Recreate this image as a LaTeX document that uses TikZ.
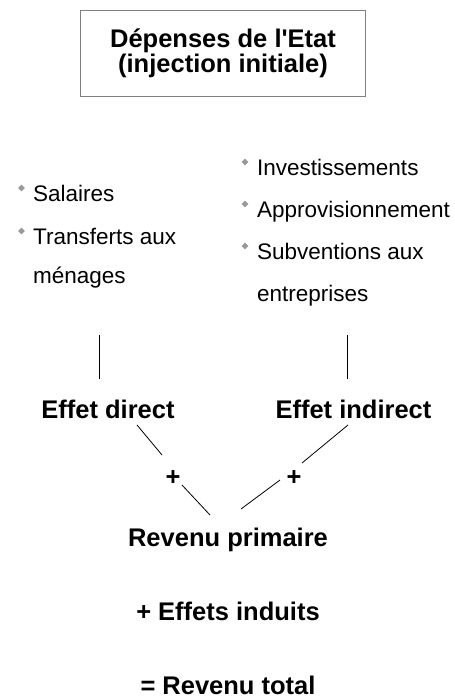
\documentclass[tikz,border=0pt]{standalone}
\usepackage{fontspec}
\setmainfont{Liberation Sans}[Ligatures=TeXOff]
\usetikzlibrary{positioning,shapes.geometric}

\begin{document}
\begin{tikzpicture}[x=1pt, y=-1pt, inner sep=0pt,
  titre/.style={font=\fontsize{25.5}{25}\selectfont\bfseries, anchor=base},
  texte/.style={font=\fontsize{22.5}{27}\selectfont, anchor=base west},
  puce/.style={diamond, fill=gray!80, minimum size=7pt},
  trait/.style={line width=0.8pt}]
  \useasboundingbox (0,0) rectangle (455,699);

  % Box
  \node[titre, anchor=center, draw=gray, line width=1.6pt, minimum width=285pt,
        minimum height=86pt, align=center] (depenses) at (223,53.5)
        {Dépenses de l'Etat\\(injection initiale)};

  % Left list
  \node[puce] (p1) at (21.5,188) {};
  \node[texte] (sal) at (33,201) {Salaires};
  \node[puce] (p2) at (21.5,231) {};
  \node[texte] (tra) at (33,244) {Transferts aux};
  \node[texte] (men) at (33,283) {ménages};

  % Right list
  \node[puce] (p3) at (245,162) {};
  \node[texte] (inv) at (257,175) {Investissements};
  \node[puce] (p4) at (245,204) {};
  \node[texte] (app) at (257,217) {Approvisionnement};
  \node[puce] (p5) at (245,246) {};
  \node[texte] (sub) at (257,259) {Subventions aux};
  \node[texte] (ent) at (257,301) {entreprises};

  % Effects
  \node[titre] (direct) at (108,418) {Effet direct};
  \node[titre] (indirect) at (353.5,418) {Effet indirect};
  \node[titre, anchor=center] (plusd) at (173,478) {+};
  \node[titre, anchor=center] (plusi) at (294,478) {+};
  \node[titre] (primaire) at (228,546) {Revenu primaire};
  \node[titre] (induits) at (228,620) {+ Effets induits};
  \node[titre] (total) at (228,694) {= Revenu total};

  % Line ends
  \coordinate (a1) at (99,335);   \coordinate (a2) at (99,379);
  \coordinate (b1) at (347,335);  \coordinate (b2) at (347,379);
  \coordinate (c1) at (137,425);  \coordinate (c2) at (162,455);
  \coordinate (c3) at (182,485);  \coordinate (c4) at (210,515);
  \coordinate (e1) at (348,425);  \coordinate (e2) at (302,463);
  \coordinate (e3) at (280,480);  \coordinate (e4) at (241,509);

  % Lines
  \draw[trait] (a1) -- (a2);
  \draw[trait] (b1) -- (b2);
  \draw[trait] (c1) -- (c2);
  \draw[trait] (c3) -- (c4);
  \draw[trait] (e1) -- (e2);
  \draw[trait] (e3) -- (e4);
\end{tikzpicture}
\end{document}
